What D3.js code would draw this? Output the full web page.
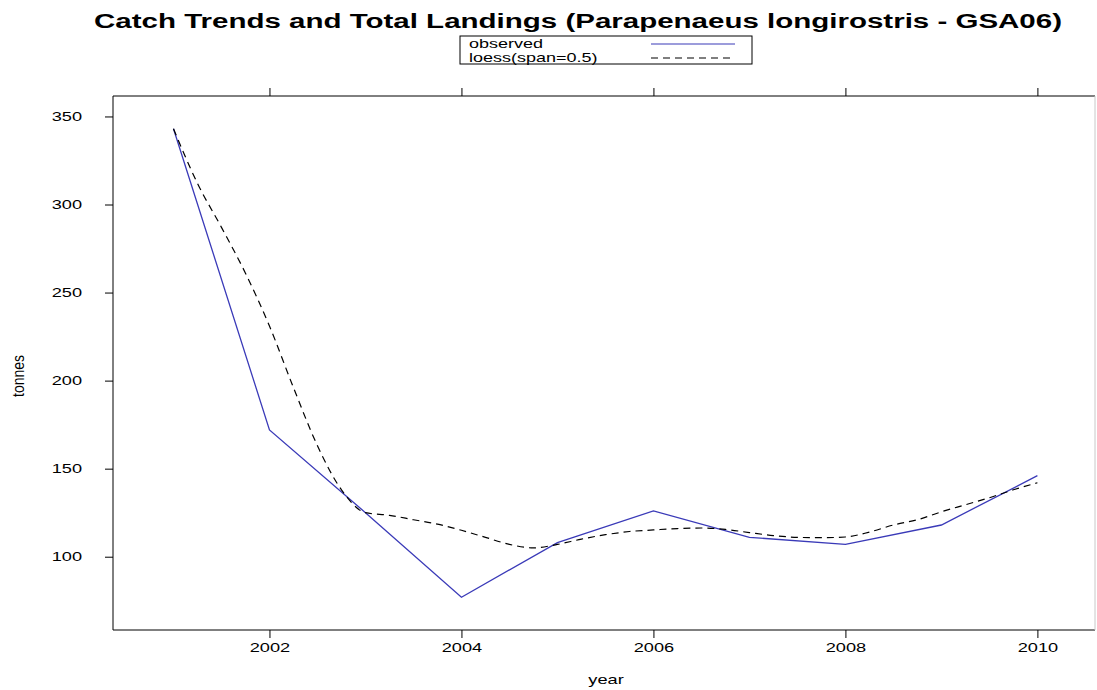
<!DOCTYPE html>
<html>
<head>
<meta charset="utf-8">
<script src="https://cdn.jsdelivr.net/npm/d3@7"></script>
<style>
  body { margin: 0; background: #fff; }
  text { font-family: "Liberation Sans", Arial, sans-serif; }
</style>
</head>
<body>
<div id="chart"></div>
<script>
// observed landings (tonnes)
let years = [2001, 2002, 2003, 2004, 2005, 2006, 2007, 2008, 2009, 2010]
let observed = [343, 172, 125, 77, 108, 126, 111, 107, 118, 146]

// loess(span=0.5) curve
let loessYears = [2001, 2001.25, 2001.5, 2001.75, 2002, 2002.25, 2002.5, 2002.75, 2003,
    2003.25, 2003.5, 2003.75, 2004, 2004.25, 2004.5, 2004.75, 2005, 2005.25, 2005.5, 2005.75,
    2006, 2006.25, 2006.5, 2006.75, 2007, 2007.25, 2007.5, 2007.75, 2008, 2008.25, 2008.5,
    2008.75, 2009, 2009.25, 2009.5, 2009.75, 2010]
let loessValues = [343, 312, 287, 261, 231, 196, 163, 138, 125,
    123.5, 121, 118.5, 115, 111, 107, 105, 107, 110, 112.5, 114.3,
    115.2, 116, 116.3, 115.5, 113.7, 112, 111, 110.8, 111.2, 114, 118,
    121, 125.5, 129.5, 133.5, 138, 142]

let xTicks = [2002, 2004, 2006, 2008, 2010]
let yTicks = [100, 150, 200, 250, 300, 350]
let legendLabels = ["observed", "loess(span=0.5)"]

let width = 1097
let height = 690
let sx = 1.4   // the picture is stretched sideways

let svg = d3.select("#chart")
    .append("svg")
        .attr("width", width)
        .attr("height", height)

let plotLeft = 113, plotRight = 1095, plotTop = 96, plotBottom = 630

// lattice pads the data range by 7%
let yMin = d3.min(observed), yMax = d3.max(observed)
let pad = (yMax - yMin) * 0.07

let x = d3.scaleLinear()
    .domain([2000.37, 2010.6])
    .range([plotLeft, plotRight])

let y = d3.scaleLinear()
    .domain([yMin - pad, yMax + pad])
    .range([plotBottom, plotTop])

// TITLE
svg.append("text")
    .attr("x", 578)
    .attr("y", 28)
    .attr("text-anchor", "middle")
    .attr("font-size", 20)
    .attr("font-weight", "bold")
    .attr("textLength", 968)
    .attr("lengthAdjust", "spacingAndGlyphs")
    .attr("fill", "#000")
    .text("Catch Trends and Total Landings (Parapenaeus longirostris - GSA06)")

// LEGEND
let legend = svg.append("g")
legend.append("rect")
    .attr("x", 460).attr("y", 36)
    .attr("width", 292).attr("height", 28)
    .attr("fill", "#fff")
    .attr("stroke", "#000")
    .attr("stroke-width", 1)

legendLabels.forEach(function(label, i){
    legend.append("text")
        .attr("x", 0).attr("y", 0)
        .attr("transform", `translate(469, ${48 + i * 14}) scale(1.5, 1)`)
        .attr("font-size", 12)
        .attr("fill", "#000")
        .text(label)
    legend.append("line")
        .attr("x1", 651).attr("x2", 735)
        .attr("y1", 44 + i * 14).attr("y2", 44 + i * 14)
        .attr("stroke", i == 0 ? "#3a3ab8" : "#000")
        .attr("stroke-width", 1.2)
        .attr("stroke-dasharray", i == 0 ? null : "7,5")
})

// AXES
let xAxis = svg.append("g")
    .attr("transform", `translate(0, ${plotBottom})`)
    .call(d3.axisBottom(x).tickValues(xTicks).tickSize(8).tickFormat(d3.format("d")))
xAxis.select(".domain").remove()
xAxis.selectAll("text")
    .attr("y", 13)
    .attr("font-size", 13)
    .attr("font-family", "Liberation Sans, Arial, sans-serif")
    .attr("transform", `scale(${sx}, 1)`)

let xTop = svg.append("g")
    .attr("transform", `translate(0, ${plotTop})`)
    .call(d3.axisTop(x).tickValues(xTicks).tickSize(8).tickFormat(""))
xTop.select(".domain").remove()

let yAxis = svg.append("g")
    .attr("transform", `translate(${plotLeft}, 0)`)
    .call(d3.axisLeft(y).tickValues(yTicks).tickSize(8))
yAxis.select(".domain").remove()
yAxis.selectAll("text")
    .attr("x", -31 / sx)
    .attr("font-size", 13)
    .attr("font-family", "Liberation Sans, Arial, sans-serif")
    .attr("transform", `scale(${sx}, 1)`)

svg.selectAll(".tick line").attr("stroke", "#000")

// frame
svg.append("line")
    .attr("x1", plotLeft).attr("x2", plotRight).attr("y1", plotTop).attr("y2", plotTop)
    .attr("stroke", "#000")
svg.append("line")
    .attr("x1", plotLeft).attr("x2", plotRight).attr("y1", plotBottom).attr("y2", plotBottom)
    .attr("stroke", "#000")
svg.append("line")
    .attr("x1", plotLeft).attr("x2", plotLeft).attr("y1", plotTop).attr("y2", plotBottom)
    .attr("stroke", "#000")
svg.append("line")
    .attr("x1", plotRight).attr("x2", plotRight).attr("y1", plotTop).attr("y2", plotBottom)
    .attr("stroke", "#c8c8c8")

// axis titles
svg.append("text")
    .attr("x", 0).attr("y", 0)
    .attr("transform", `translate(606, 684) scale(${sx}, 1)`)
    .attr("text-anchor", "middle")
    .attr("font-size", 13)
    .attr("fill", "#000")
    .text("year")

svg.append("text")
    .attr("x", 0).attr("y", 0)
    .attr("transform", `translate(24, 376) scale(1.15, 1) rotate(-90)`)
    .attr("text-anchor", "middle")
    .attr("font-size", 14)
    .attr("fill", "#000")
    .text("tonnes")

// LINES
let obsLine = d3.line()
    .x(function(d, i){ return x(years[i]) })
    .y(function(d){ return y(d) })

svg.append("path")
    .datum(observed)
    .attr("d", obsLine)
    .attr("fill", "none")
    .attr("stroke", "#3a3ab8")
    .attr("stroke-width", 1.3)

let loessLine = d3.line()
    .x(function(d, i){ return x(loessYears[i]) })
    .y(function(d){ return y(d) })
    .curve(d3.curveMonotoneX)

svg.append("path")
    .datum(loessValues)
    .attr("d", loessLine)
    .attr("fill", "none")
    .attr("stroke", "#000")
    .attr("stroke-width", 1.2)
    .attr("stroke-dasharray", "7,5")
</script>
</body>
</html>
